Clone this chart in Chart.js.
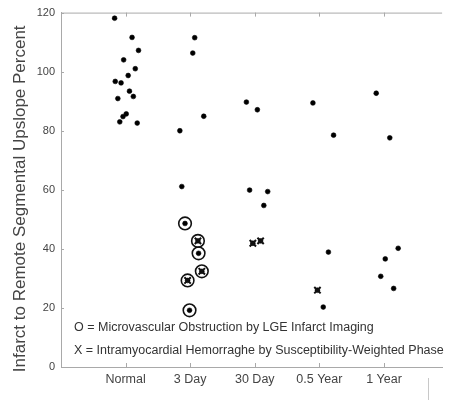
<!DOCTYPE html>
<html>
<head>
<meta charset="utf-8">
<script src="https://cdn.jsdelivr.net/npm/chart.js@4/dist/chart.umd.min.js"></script>
<style>
  html, body { margin: 0; padding: 0; background: #ffffff; }
  #wrap { width: 450px; height: 400px; position: relative; }
</style>
</head>
<body>
<div id="wrap"><canvas id="c" width="450" height="400"></canvas></div>
<script>
// ---- data ----
const categories = ['Normal', '3 Day', '30 Day', '0.5 Year', '1 Year'];
const yTicks = [0, 20, 40, 60, 80, 100, 120];
const yTitle = 'Infarct to Remote Segmental Upslope Percent';
const noteO = 'O = Microvascular Obstruction by LGE Infarct Imaging';
const noteX = 'X = Intramyocardial Hemorraghe by Susceptibility-Weighted Phase';

// per-group values (percent), horizontal jitter (category units), markers
const normalUpslope = [118.1, 111.6, 107.2, 104.0, 101.0, 98.7, 96.7, 96.2, 93.4, 91.6, 90.9, 85.7, 84.8, 83.0, 82.6];
const normalJitter  = [-0.17, 0.10, 0.20, -0.03, 0.15, 0.04, -0.16, -0.07, 0.06, 0.12, -0.12, 0.01, -0.04, -0.09, 0.18];
const normalMarks   = ['', '', '', '', '', '', '', '', '', '', '', '', '', '', ''];

const day3Upslope = [111.5, 106.3, 84.9, 80.0, 61.1, 48.6, 42.7, 38.5, 32.4, 29.3, 19.2];
const day3Jitter  = [0.07, 0.04, 0.21, -0.16, -0.13, -0.08, 0.12, 0.13, 0.18, -0.04, -0.01];
const day3Marks   = ['', '', '', '', '', 'O', 'OX', 'O', 'OX', 'OX', 'O'];

const day30Upslope = [89.7, 87.1, 59.9, 59.4, 54.7, 41.9, 42.7];
const day30Jitter  = [-0.13, 0.04, -0.08, 0.20, 0.14, -0.03, 0.09];
const day30Marks   = ['', '', '', '', '', 'X', 'X'];

const month6Upslope = [89.4, 78.5, 38.9, 26.0, 20.3];
const month6Jitter  = [-0.10, 0.22, 0.14, -0.03, 0.06];
const month6Marks   = ['', '', '', 'X', ''];

const year1Upslope = [92.7, 77.6, 40.2, 36.6, 30.7, 26.6];
const year1Jitter  = [-0.12, 0.09, 0.22, 0.02, -0.05, 0.15];
const year1Marks   = ['', '', '', '', '', ''];

// ---- build point tables ----
const groups = [
  [normalUpslope, normalJitter, normalMarks],
  [day3Upslope, day3Jitter, day3Marks],
  [day30Upslope, day30Jitter, day30Marks],
  [month6Upslope, month6Jitter, month6Marks],
  [year1Upslope, year1Jitter, year1Marks]
];
const dots = [], circles = [], crosses = [];
groups.forEach((g, gi) => {
  const [vals, jit, marks] = g;
  vals.forEach((v, i) => {
    const p = { x: gi + 1 + jit[i], y: v };
    dots.push(p);
    if (marks[i].includes('O')) circles.push(p);
    if (marks[i].includes('X')) crosses.push(p);
  });
});

const axisColor = '#a9a9a9';
const FONT = '"Liberation Sans", Arial, Helvetica, sans-serif';

const decor = {
  id: 'decor',
  afterDraw(chart) {
    const { ctx, chartArea: a, scales } = chart;
    ctx.save();
    ctx.strokeStyle = axisColor;
    ctx.lineWidth = 1;
    // top border
    ctx.beginPath();
    ctx.moveTo(a.left, a.top + 0.5);
    ctx.lineTo(a.right, a.top + 0.5);
    ctx.stroke();
    // small inward tick marks on top and bottom at categories
    categories.forEach((c, i) => {
      const x = Math.round(scales.x.getPixelForValue(i + 1)) + 0.5;
      ctx.beginPath();
      ctx.moveTo(x, a.bottom); ctx.lineTo(x, a.bottom - 4);
      ctx.moveTo(x, a.top); ctx.lineTo(x, a.top + 4);
      ctx.stroke();
    });
    // small tick marks on the y axis
    yTicks.forEach(v => {
      const y = Math.round(scales.y.getPixelForValue(v)) + 0.5;
      ctx.beginPath();
      ctx.moveTo(a.left, y); ctx.lineTo(a.left + 3, y);
      ctx.stroke();
    });
    // stray vertical line below the axis (as in the reference)
    ctx.strokeStyle = '#c8c8c8';
    ctx.beginPath();
    ctx.moveTo(428.5, a.bottom + 11);
    ctx.lineTo(428.5, chart.height);
    ctx.stroke();
    // y-axis title (sits slightly below the plot centre in the reference)
    ctx.save();
    ctx.fillStyle = '#444444';
    ctx.font = '17px ' + FONT;
    ctx.textAlign = 'center';
    ctx.textBaseline = 'middle';
    ctx.translate(20, (a.top + a.bottom) / 2 + 9);
    ctx.rotate(-Math.PI / 2);
    ctx.fillText(yTitle, 0, 0);
    ctx.restore();
    // notes
    ctx.fillStyle = '#333333';
    ctx.font = '12.5px ' + FONT;
    ctx.textBaseline = 'middle';
    ctx.textAlign = 'left';
    ctx.fillText(noteO, a.left + 13, a.bottom - 39);
    ctx.fillText(noteX, a.left + 13, a.bottom - 16);
    ctx.restore();
  }
};

new Chart(document.getElementById('c'), {
  type: 'scatter',
  data: {
    datasets: [
      {
        label: 'Upslope',
        data: dots,
        pointStyle: 'circle',
        pointRadius: 2.4,
        pointBackgroundColor: '#000',
        pointBorderColor: '#000',
        pointBorderWidth: 0.6,
        order: 1
      },
      {
        label: 'MVO',
        data: circles,
        pointStyle: 'circle',
        pointRadius: 6.3,
        pointBackgroundColor: 'rgba(0,0,0,0)',
        pointBorderColor: '#111',
        pointBorderWidth: 1.6,
        order: 2
      },
      {
        label: 'IMH',
        data: crosses,
        pointStyle: 'crossRot',
        pointRadius: 4.5,
        pointBorderColor: '#111',
        pointBorderWidth: 2,
        order: 0
      }
    ]
  },
  options: {
    responsive: false,
    animation: false,
    clip: false,
    layout: { padding: { top: 11, right: 0, bottom: 0, left: 0 } },
    plugins: { legend: { display: false }, tooltip: { enabled: false } },
    scales: {
      x: {
        type: 'linear',
        min: 0,
        max: 5.9,
        afterBuildTicks: (s) => { s.ticks = categories.map((c, i) => ({ value: i + 1 })); },
        afterFit: (s) => { s.height = 33; },
        grid: { display: false, drawTicks: false },
        border: { display: true, color: axisColor, width: 1 },
        ticks: {
          autoSkip: false,
          maxRotation: 0,
          padding: 5,
          color: '#444',
          font: { family: FONT, size: 12.5 },
          callback: (v) => categories[Math.round(v) - 1] || ''
        }
      },
      y: {
        min: 0,
        max: 120,
        afterBuildTicks: (s) => { s.ticks = yTicks.map(v => ({ value: v })); },
        afterFit: (s) => { s.width = 61; },
        grid: { display: false, drawTicks: false },
        border: { display: true, color: axisColor, width: 1 },
        ticks: {
          padding: 6,
          color: '#444',
          font: { family: FONT, size: 11 }
        },
        title: { display: false, text: yTitle }
      }
    }
  },
  plugins: [decor]
});
</script>
</body>
</html>
